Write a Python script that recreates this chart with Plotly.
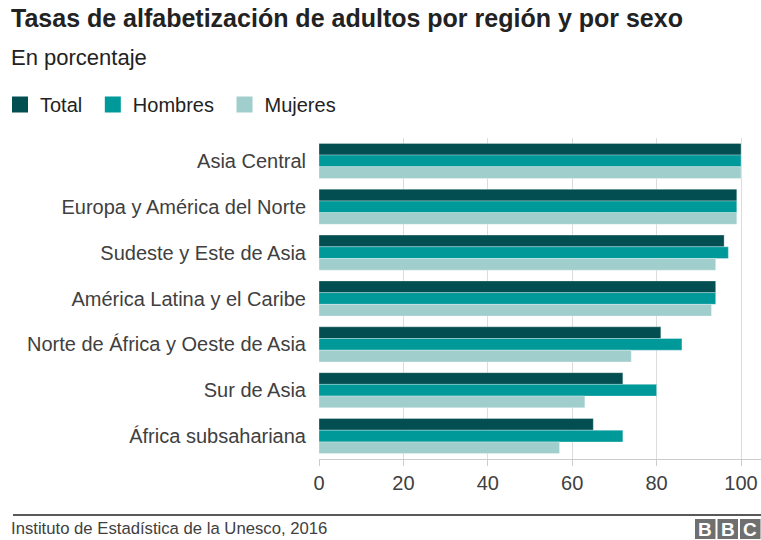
import plotly.graph_objects as go

regions = ["Asia Central", "Europa y América del Norte", "Sudeste y Este de Asia",
           "América Latina y el Caribe", "Norte de África y Oeste de Asia",
           "Sur de Asia", "África subsahariana"]
total = [100, 99, 96, 94, 81, 72, 65]
hombres = [100, 99, 97, 94, 86, 80, 72]
mujeres = [100, 99, 94, 93, 74, 63, 57]
series_names = ["Total", "Hombres", "Mujeres"]
colors = ["#034e50", "#00999a", "#a0cecc"]
x_ticks = [0, 20, 40, 60, 80, 100]

FONT = "Liberation Sans, Arial, Helvetica, sans-serif"
W, H = 761, 540
ML, MR, MT, MB = 319, 0, 138, 81
PW, PH = W - ML - MR, H - MT - MB
X_MAX = 100 * PW / 422.0


def px(x):
    return (x - ML) / PW


def py(y):
    return (H - MB - y) / PH


fig = go.Figure()
for name, vals, col in zip(series_names, [total, hombres, mujeres], colors):
    fig.add_trace(go.Bar(
        y=regions, x=vals, name=name, orientation="h", legendgroup=name,
        showlegend=False,
        marker=dict(color=col, line=dict(color="rgba(255,255,255,0.6)", width=0.5)),
    ))
# legend entries with larger square swatches
for name, col in zip(series_names, colors):
    fig.add_trace(go.Scatter(
        x=[None], y=[None], mode="markers", name=name + "\u00a0", legendgroup=name,
        marker=dict(symbol="square", size=16, color=col, line=dict(width=0)),
        hoverinfo="skip",
    ))

fig.update_layout(
    width=W, height=H,
    margin=dict(l=ML, r=MR, t=MT, b=MB),
    paper_bgcolor="white", plot_bgcolor="white",
    barmode="group", bargap=0.235, bargroupgap=0,
    font=dict(family=FONT, color="#404040"),
    showlegend=True,
    legend=dict(orientation="h", xref="container", yref="container",
                x=0.0, y=1 - 85 / H, xanchor="left", yanchor="top",
                font=dict(size=20, color="#222222"), traceorder="normal",
                itemsizing="trace", itemclick=False, bgcolor="rgba(0,0,0,0)"),
    xaxis=dict(range=[0, X_MAX], tickvals=x_ticks, showgrid=True, gridcolor="#dcdcdc",
               gridwidth=1, zeroline=False, showline=True, linecolor="#cccccc",
               ticks="outside", ticklen=6, tickcolor="#cccccc",
               tickfont=dict(size=20, color="#404040"), fixedrange=True),
    yaxis=dict(autorange="reversed", showgrid=False, ticks="", ticklabelstandoff=12,
               categoryorder="array", categoryarray=regions,
               tickfont=dict(size=20, color="#404040"), fixedrange=True),
    annotations=[
        dict(text="<b>Tasas de alfabetización de adultos por región y por sexo</b>",
             xref="paper", yref="paper", x=px(9), y=py(18),
             xanchor="left", yanchor="middle", showarrow=False,
             font=dict(size=25, color="#222222", family=FONT)),
        dict(text="En porcentaje",
             xref="paper", yref="paper", x=px(9), y=py(57),
             xanchor="left", yanchor="middle", showarrow=False,
             font=dict(size=22, color="#222222", family=FONT)),
        dict(text="Instituto de Estadística de la Unesco, 2016",
             xref="paper", yref="paper", x=px(9), y=py(528),
             xanchor="left", yanchor="middle", showarrow=False,
             font=dict(size=16.7, color="#404040", family=FONT)),
    ],
    shapes=[
        dict(type="line", xref="paper", yref="paper",
             x0=px(13), x1=px(W), y0=py(515), y1=py(515),
             line=dict(color="#222222", width=1.5)),
    ],
)

# BBC logo blocks
for i, letter in enumerate("BBC"):
    x0 = 695 + i * 22.5
    fig.add_shape(type="rect", xref="paper", yref="paper",
                  x0=px(x0), x1=px(x0 + 20.5), y0=py(519), y1=py(539),
                  fillcolor="#6f6f6f", line=dict(width=0))
    fig.add_annotation(text="<b>" + letter + "</b>", xref="paper", yref="paper",
                       x=px(x0 + 10.25), y=py(529.5),
                       xanchor="center", yanchor="middle", showarrow=False,
                       font=dict(size=19, color="white", family=FONT))

fig.write_html("out.html", config={"displayModeBar": False},
               post_script="document.body.style.margin='0';")
